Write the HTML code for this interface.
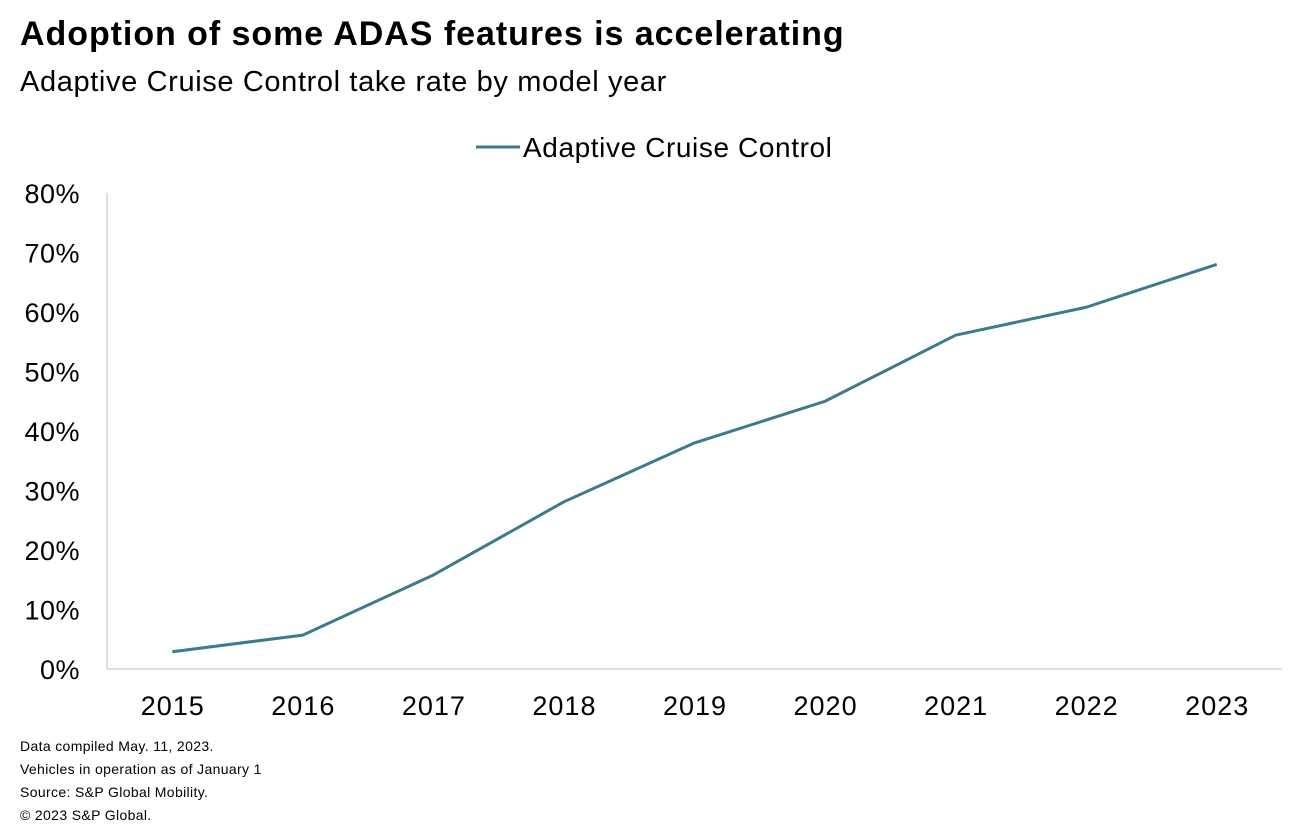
<!DOCTYPE html>
<html><head><meta charset="utf-8"><style>
body{margin:0;background:#fff;width:1306px;height:840px;overflow:hidden;font-family:"Liberation Sans",Arial,sans-serif;}
svg{position:absolute;left:0;top:0}
</style></head><body>
<svg width="1306" height="840" id="chart">
<text x="20" y="45" font-size="34" font-weight="bold" letter-spacing="0.95" fill="#000">Adoption of some ADAS features is accelerating</text>
<text x="20" y="91" font-size="29" letter-spacing="0.63" fill="#000">Adaptive Cruise Control take rate by model year</text>
<g>
<line x1="476" y1="147" x2="520" y2="147" stroke="#3c7a8c" stroke-width="3"/>
<text x="523" y="157" font-size="28" letter-spacing="0.6" fill="#000">Adaptive Cruise Control</text>
</g>
<g id="axes"></g>
<g id="marks"></g>
<g font-size="14" letter-spacing="0.35" fill="#000">
<text x="20" y="751">Data compiled May. 11, 2023.</text>
<text x="20" y="774">Vehicles in operation as of January 1</text>
<text x="20" y="797">Source: S&amp;P Global Mobility.</text>
<text x="20" y="820">© 2023 S&amp;P Global.</text>
</g>
</svg>
<script>
const categories=["2015","2016","2017","2018","2019","2020","2021","2022","2023"];
const acc=[2.9,5.7,15.8,28.1,38,45,56.1,60.8,68];
const yTicks=[0,10,20,30,40,50,60,70,80];
const NS="http://www.w3.org/2000/svg";
const x0=107,x1=1282,yb=669,yt=193,ymax=80;
const band=(x1-x0)/categories.length;
const X=i=>x0+band*(i+0.5);
const Y=v=>yb-(v/ymax)*(yb-yt);
const axes=document.getElementById('axes'),marks=document.getElementById('marks');
function mk(t,a,p){const e=document.createElementNS(NS,t);for(const k in a)e.setAttribute(k,a[k]);p.appendChild(e);return e;}
const ya=mk('line',{x1:x0,y1:yt,x2:x0,y2:yb,stroke:'#bfbfbf','stroke-width':1},axes);


const xa=mk('line',{x1:x0,y1:yb,x2:x1,y2:yb,stroke:'#bfbfbf','stroke-width':1},axes);


yTicks.forEach(v=>{const t=mk('text',{x:80,y:Y(v)+10,'font-size':27,'letter-spacing':0.5,'text-anchor':'end',fill:'#000'},axes);t.textContent=v+'%';

});
categories.forEach((c,i)=>{const t=mk('text',{x:X(i)+0.5,y:715,'font-size':27,'letter-spacing':1,'text-anchor':'middle',fill:'#000'},axes);t.textContent=c;

});
const p=mk('polyline',{points:acc.map((v,i)=>X(i)+','+Y(v)).join(' '),fill:'none',stroke:'#3c7a8c','stroke-width':3,'stroke-linejoin':'round'},marks);


</script>
</body></html>
